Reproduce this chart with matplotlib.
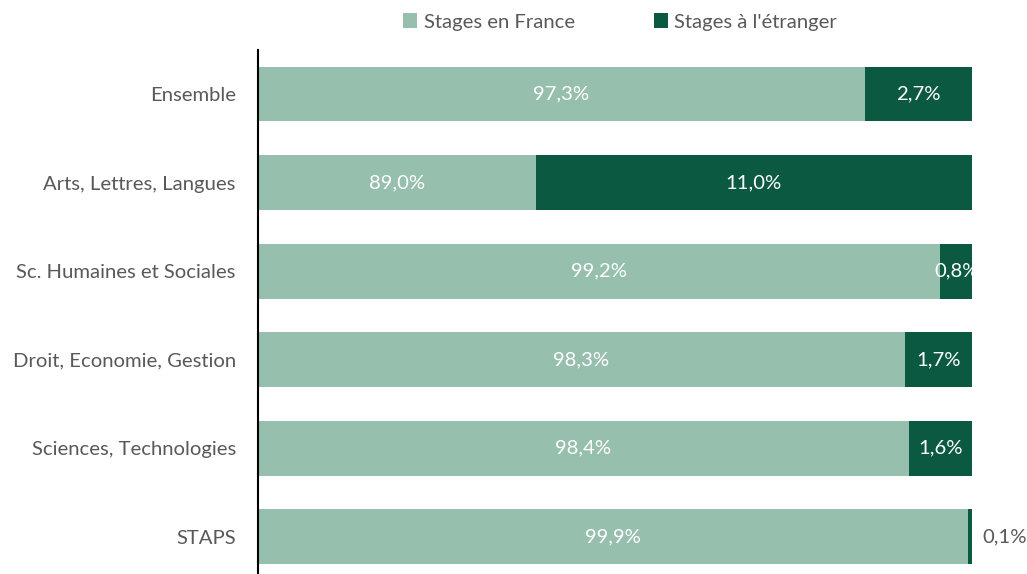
import numpy as np
import matplotlib.pyplot as plt

categories = ["Ensemble", "Arts, Lettres, Langues", "Sc. Humaines et Sociales",
              "Droit, Economie, Gestion", "Sciences, Technologies", "STAPS"]
france = [97.3, 89.0, 99.2, 98.3, 98.4, 99.9]
etranger = [2.7, 11.0, 0.8, 1.7, 1.6, 0.1]
series_names = ["Stages en France", "Stages à l'étranger"]

light = "#97bfad"
dark = "#0b5940"
grey = "#595959"

plt.rcParams['font.family'] = ['Lato', 'DejaVu Sans']
fs = 14.6

fig = plt.figure(figsize=(10.27, 5.74), dpi=100)
ax = fig.add_axes([258 / 1027, 0.0, 714 / 1027, 1 - 49.7 / 574])

# axis starts at 82 %, as in the original chart
xmin = 82
y = np.arange(len(categories))
ax.barh(y, france, height=0.62, color=light, label=series_names[0])
ax.barh(y, etranger, left=france, height=0.62, color=dark, label=series_names[1])

def fmt(v):
    return ("%.1f%%" % v).replace(".", ",")

for i in range(len(categories)):
    ax.text((xmin + france[i]) / 2, y[i], fmt(france[i]), color="white", ha="center", va="center", fontsize=fs)
    if etranger[i] >= 0.5:
        ax.text(france[i] + etranger[i] / 2, y[i], fmt(etranger[i]), color="white",
                ha="center", va="center", fontsize=fs)
    else:
        ax.text(100.25, y[i], fmt(etranger[i]), color=grey, ha="left", va="center",
                fontsize=fs, clip_on=False)

ax.set_xlim(xmin, 100)
ax.set_ylim(5.42, -0.5)
ax.set_yticks(y)
ax.set_yticklabels(categories, color=grey, fontsize=fs)
ax.tick_params(axis="y", length=0, pad=16)
ax.set_xticks([])
for s in ["top", "right", "bottom"]:
    ax.spines[s].set_visible(False)
ax.spines["left"].set_linewidth(1.5)
ax.spines["left"].set_color("black")

leg = fig.legend(loc="center", bbox_to_anchor=(620 / 1027, 1 - 22 / 574), ncol=2, frameon=False,
                 fontsize=fs, handlelength=0.7, handleheight=0.7, columnspacing=3.9, handletextpad=0.3)
for t in leg.get_texts():
    t.set_color(grey)

fig.savefig("out.png", dpi=100)
